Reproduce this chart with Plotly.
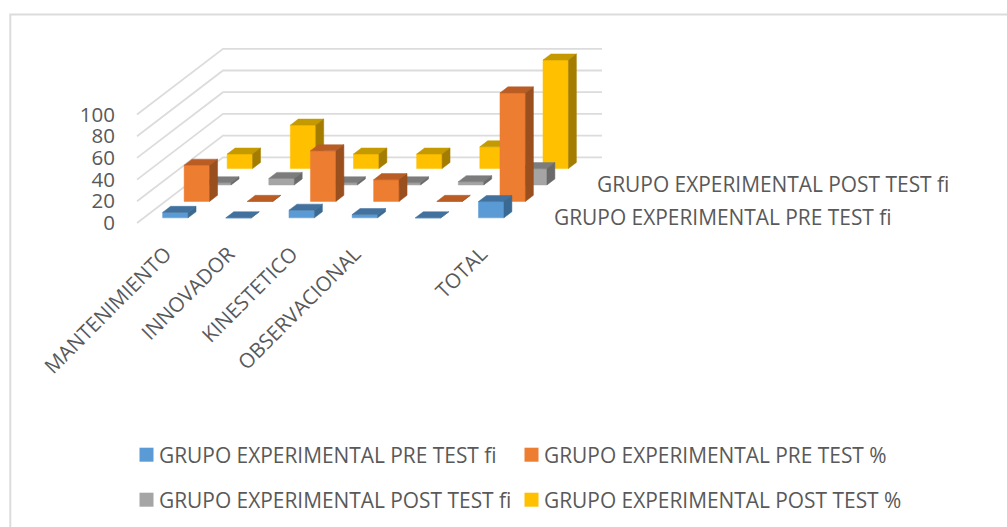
import plotly.graph_objects as go

categories = ["MANTENIMIENTO", "INNOVADOR", "KINESTETICO", "OBSERVACIONAL", "", "TOTAL"]
pre_fi = [5, 0, 7, 3, 0, 15]
pre_pct = [33.33, 0, 46.67, 20, 0, 100]
post_fi = [2, 6, 2, 2, 3, 15]
post_pct = [13.33, 40, 13.33, 13.33, 20, 100]
series_names = ["GRUPO EXPERIMENTAL PRE TEST fi", "GRUPO EXPERIMENTAL PRE TEST %",
                "GRUPO EXPERIMENTAL POST TEST fi", "GRUPO EXPERIMENTAL POST TEST %"]
y_ticks = [0, 20, 40, 60, 80, 100]

W, H = 1007, 527
PX_X, PX_Y = 63.17, 1.085      # pixels per category / per value unit
X0, Y0 = 137, 223              # pixel of the floor's front-left corner
DEPTH_X = 86 / PX_X            # full floor depth, in axis units
DEPTH_Y = 65.7 / PX_Y
SLOTS = 4
BAR_W = 0.403
BAR_D = 0.37
TEXT = "#595959"
FONT = "Open Sans"
FS = 20.9
GRID = "#DCDCDC"

faces = [("#5B9BD5", "#41719C", "#3A6A94"), ("#ED7D31", "#B95D25", "#9A4F1E"),
         ("#A5A5A5", "#7C7C7C", "#6A6A6A"), ("#FFC000", "#C49A00", "#A47D00")]
values = [pre_fi, pre_pct, post_fi, post_pct]


def project(c, v, d):
    """category position, value, depth in slots -> axis coordinates"""
    return c + d / SLOTS * DEPTH_X, v + d / SLOTS * DEPTH_Y


def from_px(px, py):
    return (px - X0) / PX_X, (Y0 - py) / PX_Y


fig = go.Figure()

# walls
gx, gy = [], []
for t in y_ticks:
    for c, d in [(0, 0), (0, SLOTS), (len(categories), SLOTS)]:
        x, y = project(c, t, d)
        gx.append(x)
        gy.append(y)
    gx.append(None)
    gy.append(None)
fig.add_trace(go.Scatter(x=gx, y=gy, mode="lines", line=dict(color=GRID, width=1.8),
                         showlegend=False, hoverinfo="skip"))

# bars, back to front
for s in range(3, -1, -1):
    d0 = s + (1 - BAR_D) / 2
    d1 = d0 + BAR_D
    for face in range(3):
        xs, ys = [], []
        for i, v in enumerate(values[s]):
            c0 = i + (1 - BAR_W) / 2
            c1 = c0 + BAR_W
            if face == 0:
                pts = [(c0, 0, d0), (c1, 0, d0), (c1, v, d0), (c0, v, d0)]
            elif face == 1:
                pts = [(c0, v, d0), (c1, v, d0), (c1, v, d1), (c0, v, d1)]
            else:
                pts = [(c1, 0, d0), (c1, 0, d1), (c1, v, d1), (c1, v, d0)]
            for p in pts + pts[:1]:
                x, y = project(*p)
                xs.append(x)
                ys.append(y)
            xs.append(None)
            ys.append(None)
        fig.add_trace(go.Scatter(x=xs, y=ys, mode="lines", fill="toself", fillcolor=faces[s][face],
                                 line=dict(color=faces[s][face], width=0.5),
                                 showlegend=False, hoverinfo="skip"))

# key: swatch + text, two rows of two
key_pos = [(146.5, 454.7), (531.5, 454.7), (146.5, 499.7), (531.5, 499.7)]
for s, (px, py) in enumerate(key_pos):
    x, y = from_px(px, py)
    fig.add_trace(go.Scatter(x=[x], y=[y], mode="markers", name=series_names[s], showlegend=False,
                             marker=dict(symbol="square", size=14, color=faces[s][0], line=dict(width=0))))
    fig.add_annotation(x=x, y=y, text=series_names[s], showarrow=False, xanchor="left", yanchor="middle",
                       xshift=10, font=dict(family=FONT, size=FS, color=TEXT))

# depth axis labels (every other series)
for s in [0, 2]:
    x, y = project(len(categories), 0, s + 0.5)
    fig.add_annotation(x=x, y=y, text=series_names[s], showarrow=False, xanchor="left",
                       yanchor="middle", xshift=25, yshift=-2,
                       font=dict(family=FONT, size=FS, color=TEXT))

fig.update_layout(
    width=W, height=H, margin=dict(l=0, r=0, t=0, b=0), autosize=False,
    paper_bgcolor="white", plot_bgcolor="white", showlegend=False,
    xaxis=dict(range=[-X0 / PX_X, (W - X0) / PX_X], domain=[0, 1], anchor="free",
               position=(H - 237) / H, showgrid=False, zeroline=False, showline=False,
               tickmode="array", tickvals=[i + 0.45 for i in range(len(categories))],
               ticktext=categories, tickangle=-45, ticks="",
               tickfont=dict(family=FONT, size=20.5, color=TEXT)),
    yaxis=dict(range=[-(H - Y0) / PX_Y, Y0 / PX_Y], domain=[0, 1], anchor="free",
               position=115 / W, showgrid=False, zeroline=False, showline=False,
               tickmode="array", tickvals=y_ticks, ticks="",
               tickfont=dict(family=FONT, size=20.5, color=TEXT)),
    shapes=[dict(type="path", xref="paper", yref="paper",
                 path=f"M {10.3/W} 0 L {10.3/W} {1-14.5/H} L 1 {1-14.5/H}",
                 line=dict(color=GRID, width=2))],
)
fig.write_html("out.html", post_script="document.body.style.margin='0';",
               config={"displayModeBar": False})
